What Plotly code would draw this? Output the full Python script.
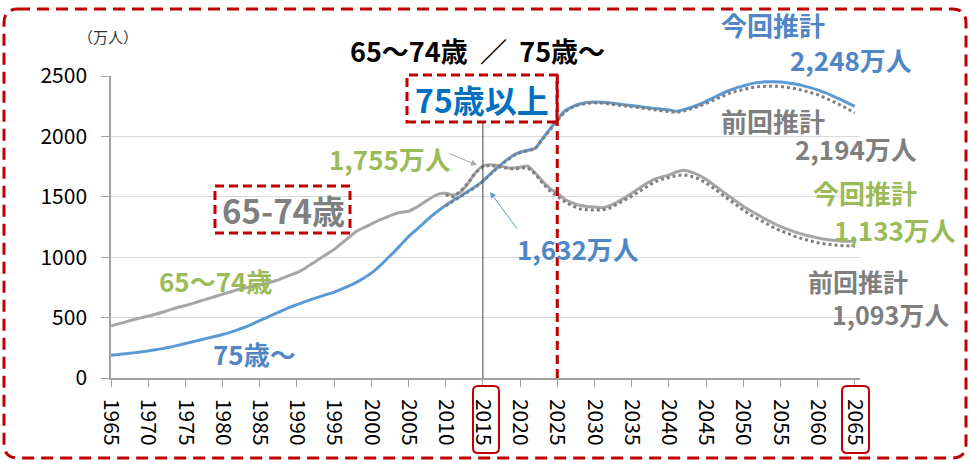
import plotly.graph_objects as go

# 年次（1965-2065）
YEARS = list(range(1965, 2066))
PREV_YEARS = list(range(2010, 2066))

# 75歳以上（今回推計, 万人）
OVER75 = [
    189, 195, 201, 208, 216, 224, 234, 244, 256, 270,
    285, 300, 315, 330, 345, 360, 378, 398, 420, 446,
    475, 502, 530, 558, 585, 607, 630, 652, 672, 692,
    710, 735, 762, 792, 828, 868, 920, 980, 1040, 1105,
    1170, 1225, 1280, 1335, 1385, 1430, 1470, 1505, 1545, 1585,
    1630, 1690, 1745, 1795, 1840, 1870, 1885, 1900, 1980, 2060,
    2140, 2210, 2245, 2268, 2280, 2285, 2283, 2278, 2270, 2262,
    2255, 2248, 2240, 2232, 2225, 2220, 2208, 2222, 2240, 2262,
    2290, 2320, 2350, 2378, 2400, 2418, 2435, 2446, 2452, 2453,
    2450, 2443, 2433, 2420, 2404, 2385, 2362, 2336, 2308, 2278,
    2248,
]

# 65～74歳（今回推計, 万人）
AGE65_74 = [
    430, 448, 465, 482, 498, 512, 528, 546, 566, 584,
    600, 618, 637, 656, 675, 693, 712, 730, 745, 758,
    770, 785, 803, 825, 850, 872, 905, 945, 985, 1025,
    1065, 1115, 1165, 1215, 1245, 1275, 1305, 1330, 1355, 1372,
    1380, 1410, 1450, 1490, 1522, 1530, 1515, 1540, 1610, 1700,
    1755, 1765, 1760, 1745, 1738, 1745, 1755, 1700, 1630, 1570,
    1530, 1480, 1450, 1430, 1420, 1416, 1410, 1425, 1455, 1490,
    1530, 1570, 1610, 1645, 1665, 1680, 1705, 1720, 1705, 1680,
    1645, 1600, 1555, 1510, 1465, 1422, 1385, 1350, 1315, 1283,
    1255, 1230, 1208, 1190, 1173, 1160, 1148, 1140, 1135, 1133,
    1133,
]

# 前回推計（2010-2065）
PREV_OVER75 = [
    1425, 1465, 1500, 1540, 1580, 1628, 1688, 1742, 1792, 1836,
    1866, 1880, 1895, 1975, 2055, 2135, 2205, 2240, 2262, 2273,
    2278, 2276, 2270, 2262, 2253, 2245, 2237, 2229, 2221, 2214,
    2208, 2197, 2210, 2227, 2248, 2273, 2300, 2328, 2353, 2373,
    2390, 2403, 2412, 2416, 2417, 2414, 2406, 2395, 2381, 2365,
    2346, 2320, 2292, 2262, 2229, 2194,
]
PREV_AGE65_74 = [
    1517, 1500, 1545, 1615, 1700, 1749, 1760, 1752, 1738, 1730,
    1735, 1742, 1690, 1615, 1550, 1505, 1460, 1425, 1400, 1392,
    1393, 1390, 1405, 1435, 1470, 1505, 1545, 1585, 1620, 1645,
    1660, 1675, 1682, 1670, 1648, 1615, 1572, 1525, 1480, 1435,
    1390, 1350, 1315, 1280, 1248, 1220, 1195, 1172, 1152, 1135,
    1120, 1110, 1102, 1097, 1094, 1093,
]

X_TICKS = list(range(1965, 2066, 5))
Y_TICKS = [0, 500, 1000, 1500, 2000, 2500]

BLUE = "#5B9BD5"
GRAY = "#A6A6A6"
DOT = "#7F7F7F"
RED = "#C00000"
GREEN = "#9BBB59"
BLUE_TXT = "#4F86C6"
GRAY_TXT = "#7F7F7F"
FONT = "Noto Sans CJK JP"

W, H = 970, 462
PL, PR, PT, PB = 111, 860, 76, 378


def px(x):
    return (x - PL) / (PR - PL)


def py(y):
    return (PB - y) / (PB - PT)


def rounded_path(x0, y0, x1, y1, r):
    return (
        f"M {px(x0 + r)},{py(y0)} L {px(x1 - r)},{py(y0)} "
        f"Q {px(x1)},{py(y0)} {px(x1)},{py(y0 + r)} "
        f"L {px(x1)},{py(y1 - r)} Q {px(x1)},{py(y1)} {px(x1 - r)},{py(y1)} "
        f"L {px(x0 + r)},{py(y1)} Q {px(x0)},{py(y1)} {px(x0)},{py(y1 - r)} "
        f"L {px(x0)},{py(y0 + r)} Q {px(x0)},{py(y0)} {px(x0 + r)},{py(y0)} Z"
    )


fig = go.Figure()
fig.add_trace(go.Scatter(x=YEARS, y=AGE65_74, mode="lines",
                         line=dict(color=GRAY, width=3, shape="spline", smoothing=0.6),
                         name="65～74歳"))
fig.add_trace(go.Scatter(x=YEARS, y=OVER75, mode="lines",
                         line=dict(color=BLUE, width=3, shape="spline", smoothing=0.6),
                         name="75歳～"))
fig.add_trace(go.Scatter(x=PREV_YEARS, y=PREV_AGE65_74, mode="lines",
                         line=dict(color=DOT, width=3, dash="dot"),
                         name="前回推計 65～74歳"))
fig.add_trace(go.Scatter(x=PREV_YEARS, y=PREV_OVER75, mode="lines",
                         line=dict(color=DOT, width=3, dash="dot"),
                         name="前回推計 75歳～"))


def label(text, x, y, color, size=26, bold=True):
    fig.add_annotation(
        x=px(x), y=py(y), xref="paper", yref="paper",
        text=f"<b>{text}</b>" if bold else text,
        showarrow=False, xanchor="center", yanchor="middle",
        borderpad=0,
        font=dict(family=FONT, size=size, color=color),
    )


label("65～74歳&nbsp;&nbsp;／&nbsp;&nbsp;75歳～", 477, 50, "black", size=27)
label("（万人）", 108, 37, "#333333", size=15, bold=False)
label("75歳以上", 482, 99, "#0070C0", size=32)
label("65-74歳", 283, 210, GRAY_TXT, size=33)
label("65～74歳", 215, 280, GREEN)
label("75歳～", 254, 353, BLUE_TXT)
label("1,755万人", 390, 158, GREEN)
label("1,632万人", 578, 248, BLUE_TXT)
label("今回推計", 773, 24, BLUE_TXT)
label("2,248万人", 851, 60, BLUE_TXT)
label("前回推計", 773, 120, GRAY_TXT)
label("2,194万人", 856, 148, GRAY_TXT)
label("今回推計", 865, 192, GREEN)
label("1,133万人", 895, 230, GREEN)
label("前回推計", 858, 281, GRAY_TXT, size=25)
label("1,093万人", 890, 314, GRAY_TXT, size=25)

# arrows
fig.add_annotation(x=px(477), y=py(165), xref="paper", yref="paper",
                   ax=-29, ay=-12, text="", showarrow=True,
                   arrowhead=2, arrowsize=1.2, arrowwidth=1, arrowcolor=GRAY)
fig.add_annotation(x=px(490), y=py(192), xref="paper", yref="paper",
                   ax=28, ay=38, text="", showarrow=True,
                   arrowhead=2, arrowsize=1.2, arrowwidth=1, arrowcolor=BLUE)

shapes = [
    # 2015 vertical line
    dict(type="line", xref="x", yref="paper", x0=2015, x1=2015,
         y0=0, y1=py(122), line=dict(color="#404040", width=1)),
    # 2025 red dashed
    dict(type="line", xref="x", yref="paper", x0=2025, x1=2025,
         y0=0, y1=py(75), line=dict(color=RED, width=3, dash="9px,5px")),
    dict(type="rect", xref="paper", yref="paper",
         x0=px(407), x1=px(557), y0=py(122), y1=py(75),
         line=dict(color=RED, width=3, dash="9px,5px")),
    dict(type="rect", xref="paper", yref="paper",
         x0=px(215), x1=px(350), y0=py(233), y1=py(186),
         line=dict(color=RED, width=3, dash="9px,5px")),
    dict(type="path", xref="paper", yref="paper",
         path=rounded_path(473, 386, 499, 453, 5),
         line=dict(color=RED, width=2)),
    dict(type="path", xref="paper", yref="paper",
         path=rounded_path(842, 386, 869, 453, 5),
         line=dict(color=RED, width=2)),
    dict(type="path", xref="paper", yref="paper",
         path=rounded_path(4, 9, 966, 458, 14),
         line=dict(color=RED, width=3, dash="12px,7px")),
]

fig.update_layout(
    width=W, height=H,
    margin=dict(l=PL, r=W - PR, t=PT, b=H - PB),
    paper_bgcolor="white", plot_bgcolor="white",
    showlegend=False,
    shapes=shapes,
    font=dict(family=FONT, color="black"),
    xaxis=dict(
        range=[1965, 2065.7], tickvals=X_TICKS, tickangle=90,
        showgrid=False, zeroline=False,
        showline=True, linecolor="#A0A0A0", linewidth=1.5,
        ticks="outside", ticklen=7, tickcolor="#A0A0A0",
        ticklabelstandoff=8,
        tickfont=dict(family=FONT, size=21, color="black"),
    ),
    yaxis=dict(
        range=[0, 2500], tickvals=Y_TICKS,
        showgrid=True, gridcolor="#D9D9D9", gridwidth=1,
        zeroline=False,
        showline=True, linecolor="#A0A0A0", linewidth=1.5,
        ticks="outside", ticklen=8, tickcolor="#A0A0A0",
        ticklabelstandoff=10,
        tickfont=dict(family=FONT, size=21, color="black"),
    ),
)

fig.write_html("out.html", config={"displayModeBar": False},
               post_script="document.body.style.margin='0';")
